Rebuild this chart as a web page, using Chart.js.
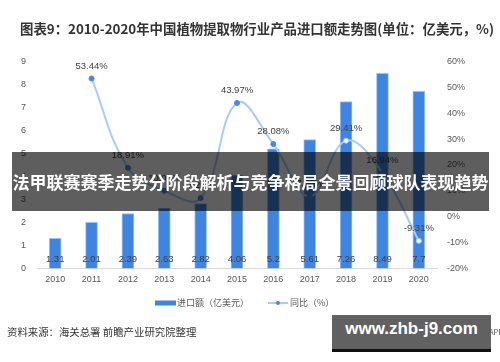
<!DOCTYPE html>
<html>
<head>
<meta charset="utf-8">
<script src="https://cdn.jsdelivr.net/npm/chart.js@4.4.1/dist/chart.umd.min.js"></script>
<style>
  html, body { margin: 0; padding: 0; background: #fff; }
  #wrap { position: relative; width: 500px; height: 362px; overflow: hidden; font-family: "Noto Sans CJK SC", "Liberation Sans", sans-serif; }
  #c { position: absolute; left: 0; top: 0; }
  .title { position: absolute; left: 20px; top: 18px; font-size: 13.4px; font-weight: bold; color: #333; white-space: nowrap; line-height: 20px; }
  .source { position: absolute; left: 7px; top: 325px; font-size: 10.4px; color: #333; white-space: nowrap; line-height: 14px; }
  .app { position: absolute; left: 444px; top: 326px; font-size: 7.5px; color: #555; white-space: nowrap; line-height: 12px; }
  .banner { position: absolute; left: 12px; top: 152px; width: 477px; height: 59px; background: rgba(0,0,0,0.63);
            color: #fff; font-size: 17px; font-weight: bold; line-height: 59px; text-align: center; white-space: nowrap; }
  .wm { position: absolute; left: 332px; top: 315px; width: 159px; height: 34px; background: #616161; border-bottom: 3px solid #111;
        color: #fff; font-family: "Liberation Sans", sans-serif; font-size: 17px; font-weight: bold; line-height: 28px; text-align: center; }
</style>
</head>
<body>
<div id="wrap">
  <canvas id="c" width="500" height="362"></canvas>
  <div class="title">图表9：2010-2020年中国植物提取物行业产品进口额走势图(单位：亿美元，%)</div>
  <div class="source">资料来源：海关总署 前瞻产业研究院整理</div>
  <div class="app">前瞻经济学人APP</div>
  <div class="banner">法甲联赛赛季走势分阶段解析与竞争格局全景回顾球队表现趋势</div>
  <div class="wm">www.zhb-j9.com</div>
</div>
<script>
const years = ['2010', '2011', '2012', '2013', '2014', '2015', '2016', '2017', '2018', '2019', '2020'];
const importValue = [1.31, 2.01, 2.39, 2.63, 2.82, 4.06, 5.2, 5.61, 7.26, 8.49, 7.7];
const yoyPct = [null, 53.44, 18.91, 10.04, 7.22, 43.97, 28.08, 7.88, 29.41, 16.94, -9.31];
const barLabel = '进口额（亿美元）';
const lineLabel = '同比（%）';

const barColor = '#3d85e0';
const lineColor = '#a9cbf7';
const dotColor = '#4a86e8';
const tickFont = { family: 'Liberation Sans, sans-serif', size: 9 };

// 数值标签：柱子写在底部，折线写在点上方
const valueLabels = {
  id: 'valueLabels',
  afterDatasetsDraw(chart) {
    const ctx = chart.ctx;
    ctx.save();
    ctx.font = '9.5px Liberation Sans, sans-serif';
    ctx.fillStyle = '#404040';
    ctx.textAlign = 'center';
    ctx.textBaseline = 'middle';
    const y0 = chart.scales.y.getPixelForValue(0);
    chart.getDatasetMeta(1).data.forEach((bar, i) => {
      ctx.fillText(String(importValue[i]), bar.x, y0 - 9);
    });
    chart.getDatasetMeta(0).data.forEach((pt, i) => {
      if (yoyPct[i] == null) return;
      ctx.fillText(yoyPct[i].toFixed(2) + '%', pt.x, pt.y - 12.5);
    });
    ctx.restore();
  }
};

// 底部图例
const bottomLegend = {
  id: 'bottomLegend',
  afterDraw(chart) {
    const ctx = chart.ctx;
    const y = 303;
    ctx.save();
    ctx.font = '9px Noto Sans CJK SC, sans-serif';
    ctx.fillStyle = '#595959';
    ctx.textBaseline = 'middle';
    ctx.fillStyle = barColor;
    ctx.fillRect(155, y - 2.5, 21, 5);
    ctx.fillStyle = '#595959';
    ctx.fillText(barLabel, 177, y);
    ctx.strokeStyle = lineColor;
    ctx.lineWidth = 2;
    ctx.beginPath();
    ctx.moveTo(268, y);
    ctx.lineTo(288, y);
    ctx.stroke();
    ctx.fillStyle = dotColor;
    ctx.beginPath();
    ctx.arc(278, y, 2, 0, Math.PI * 2);
    ctx.fill();
    ctx.fillStyle = '#595959';
    ctx.fillText(lineLabel, 290, y);
    ctx.restore();
  }
};

new Chart(document.getElementById('c'), {
  data: {
    labels: years,
    datasets: [
      {
        type: 'line',
        label: lineLabel,
        data: yoyPct,
        yAxisID: 'y1',
        order: 0,
        borderColor: lineColor,
        borderWidth: 2,
        tension: 0.4,
        pointRadius: 2.5,
        pointBorderWidth: 1,
        pointBorderColor: [dotColor, dotColor, dotColor, dotColor, dotColor, dotColor, dotColor, dotColor, lineColor, dotColor, lineColor],
        pointBackgroundColor: [dotColor, dotColor, dotColor, dotColor, dotColor, dotColor, dotColor, dotColor, '#fff', dotColor, '#fff'],
      },
      {
        type: 'bar',
        label: barLabel,
        data: importValue,
        yAxisID: 'y',
        order: 1,
        backgroundColor: barColor,
        borderColor: '#9fc2f0',
        borderWidth: 1,
        barThickness: 12,
      }
    ]
  },
  options: {
    responsive: false,
    animation: false,
    devicePixelRatio: 1,
    layout: { padding: { top: 61.5, bottom: 73.5, left: 0, right: 0 } },
    plugins: {
      legend: { display: false },
      tooltip: { enabled: false },
    },
    scales: {
      x: {
        offset: true,
        grid: { display: false, drawTicks: false },
        border: { display: true, color: '#d9d9d9', width: 1 },
        ticks: { color: '#595959', font: tickFont, padding: 6, maxRotation: 0 },
        afterFit: (s) => { s.height = 20; },
      },
      y: {
        position: 'left',
        min: 0,
        max: 9,
        grid: { display: false, drawTicks: false },
        border: { display: false },
        ticks: { stepSize: 1, color: '#595959', font: tickFont, padding: 11 },
        afterFit: (s) => { s.width = 37; },
      },
      y1: {
        position: 'right',
        min: -20,
        max: 60,
        grid: { display: false, drawTicks: false },
        border: { display: false },
        ticks: { stepSize: 10, color: '#595959', font: tickFont, padding: 10, callback: (v) => v + '%' },
        afterFit: (s) => { s.width = 63; },
      }
    }
  },
  plugins: [valueLabels, bottomLegend]
});
</script>
</body>
</html>
